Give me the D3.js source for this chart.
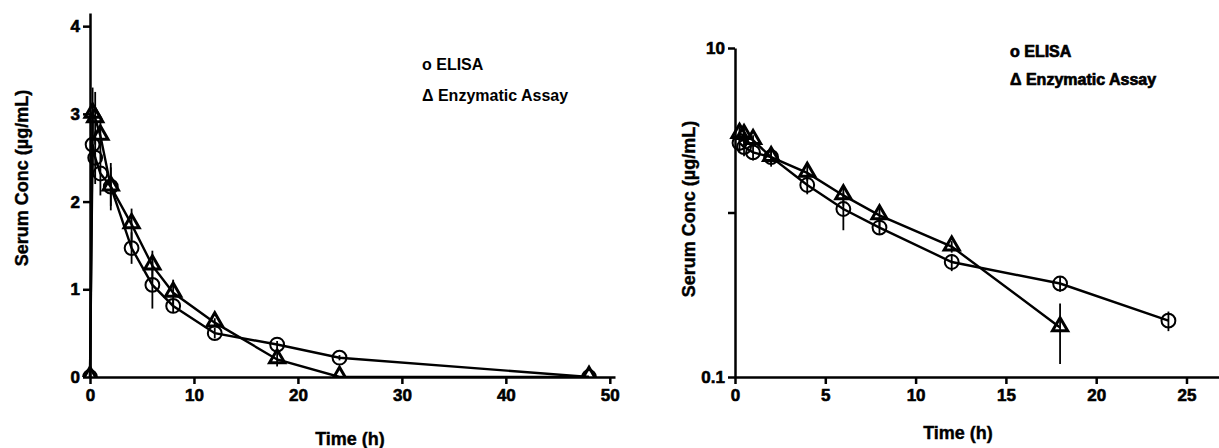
<!DOCTYPE html>
<html lang="en">
<head>
<meta charset="UTF-8">
<title>Serum concentration</title>
<script src="https://d3js.org/d3.v7.min.js"></script>
<style>
    body { margin: 0; background: #fff; }
    svg { font-family: "Liberation Sans", Arial, sans-serif; font-weight: bold; }
    .axis path, .axis line { stroke: #000; stroke-width: 2.5px; }
    .axis text { font-size: 17px; font-weight: bold; fill: #000; stroke: #000; stroke-width: 0.6px; }
    .line { fill: none; stroke: #000; stroke-width: 2.4px; }
    .err { stroke: #000; stroke-width: 1.8px; }
    .mark { fill: none; stroke: #000; stroke-width: 2px; }
    .title { font-size: 18px; font-weight: bold; stroke: #000; stroke-width: 0.4px; }
    .legend { font-size: 16px; font-weight: bold; }
</style>
</head>
<body>
<script>

    // sampling times (h)
    var times = [0, 0.25, 0.5, 1, 2, 4, 6, 8, 12, 18, 24, 48];

    // ELISA, mean and SD (ug/mL)
    var elisa   = [0, 2.65, 2.5, 2.32, 2.17, 1.47, 1.05, 0.81, 0.5, 0.37, 0.22, 0];
    var elisaSd = [0, 0.3, 0.3, 0.25, 0.27, 0.18, 0.27, 0.08, 0.06, 0.04, 0.03, 0];

    // Enzymatic assay, mean and SD (ug/mL)
    var enzyme   = [0, 3.0, 2.95, 2.75, 2.17, 1.74, 1.27, 0.96, 0.62, 0.2, 0, 0];
    var enzymeSd = [0, 0.3, 0.3, 0.2, 0.22, 0.18, 0.17, 0.15, 0.05, 0.08, 0, 0];

    var linXTicks = [0, 10, 20, 30, 40, 50];
    var linYTicks = [0, 1, 2, 3, 4];
    var logXTicks = [0, 5, 10, 15, 20, 25];
    var logYTicks = [0.1, 1, 10];
    var logYLabels = ["0.1", "", "10"];

    var legendLabels = ["o ELISA", "\u0394 Enzymatic Assay"];

    var svg = d3.select("body").append("svg")
        .attr("width", 1219)
        .attr("height", 448);

    function series(vals, sds, keepZero) {
        var out = [];
        times.forEach(function(t, i) {
            if (!keepZero && vals[i] <= 0) return;
            out.push({t: t, v: vals[i], sd: sds[i]});
        });
        return out;
    }

    function drawPanel(p) {
        var g = svg.append("g");
        var x = p.x, y = p.y;

        var clipId = "clip" + p.id;
        g.append("clipPath").attr("id", clipId)
            .append("rect")
            .attr("x", x.range()[0] - 10).attr("y", 0)
            .attr("width", x.range()[1] - x.range()[0] + 20)
            .attr("height", y.range()[0]);

        var plot = g.append("g").attr("clip-path", "url(#" + clipId + ")");

        var sets = [
            {d: series(elisa, elisaSd, p.keepZero), shape: "circle"},
            {d: series(enzyme, enzymeSd, p.keepZero), shape: "triangle"}
        ];

        var line = d3.line()
            .x(function(d) { return x(d.t); })
            .y(function(d) { return y(d.v); });

        sets.forEach(function(s) {
            plot.append("path").datum(s.d).attr("class", "line").attr("d", line);

            // error bars
            plot.selectAll(null).data(s.d.filter(function(d) { return d.sd > 0; }))
                .enter().append("line")
                .attr("class", "err")
                .attr("x1", function(d) { return x(d.t); })
                .attr("x2", function(d) { return x(d.t); })
                .attr("y1", function(d) { return y(d.v + d.sd); })
                .attr("y2", function(d) { return y(Math.max(d.v - d.sd, p.floor)); });

            var sym = d3.symbol()
                .type(s.shape === "circle" ? d3.symbolCircle : d3.symbolTriangle)
                .size(s.shape === "circle" ? 150 : 100);

            plot.selectAll(null).data(s.d)
                .enter().append("path")
                .attr("class", "mark")
                .style("stroke-width", s.shape === "circle" ? 2 : 3)
                .attr("transform", function(d) {
                    return "translate(" + x(d.t) + "," + (y(d.v) + (s.shape === "circle" ? 0 : -1)) + ")";
                })
                .attr("d", sym);
        });

        // axes
        g.append("g")
            .attr("class", "axis")
            .attr("transform", "translate(0," + y.range()[0] + ")")
            .call(d3.axisBottom(x).tickValues(p.xTicks).tickSize(7).tickSizeOuter(0).tickPadding(5));

        g.append("g")
            .attr("class", "axis")
            .attr("transform", "translate(" + x.range()[0] + ",0)")
            .call(d3.axisLeft(y).tickValues(p.yTicks).tickSize(7).tickSizeOuter(0).tickPadding(3)
                .tickFormat(function(d, i) { return p.yLabels[i]; }));

        g.append("text")
            .attr("class", "title")
            .attr("text-anchor", "middle")
            .attr("transform", "translate(" + p.yTitle[0] + "," + p.yTitle[1] + ") rotate(-90)")
            .text("Serum Conc (\u00b5g/mL)");

        g.append("text")
            .attr("class", "title")
            .attr("text-anchor", "middle")
            .attr("x", p.xTitle[0]).attr("y", p.xTitle[1])
            .text("Time (h)");

        legendLabels.forEach(function(l, i) {
            g.append("text")
                .attr("class", "legend")
                .attr("x", p.legend[0])
                .attr("y", p.legend[1] + i * p.legend[2])
                .style("stroke", "#000")
                .style("stroke-width", p.legend[3])
                .text(l);
        });
    }

    drawPanel({
        id: "a",
        x: d3.scaleLinear().domain([0, 50.5]).range([90, 615]),
        y: d3.scaleLinear().domain([0, 4.15]).range([377, 13]),
        xTicks: linXTicks,
        yTicks: linYTicks,
        yLabels: linYTicks.map(String),
        keepZero: true,
        floor: 0,
        yTitle: [28, 178],
        xTitle: [350, 445],
        legend: [422, 70, 31, 0]
    });

    drawPanel({
        id: "b",
        x: d3.scaleLinear().domain([0, 26.8]).range([735, 1219]),
        y: d3.scaleLog().domain([0.1, 10]).range([377, 48]),
        xTicks: logXTicks,
        yTicks: logYTicks,
        yLabels: logYLabels,
        keepZero: false,
        floor: 0.1,
        yTitle: [695, 209],
        xTitle: [958, 439],
        legend: [1010, 57, 28, 0.7]
    });

</script>
</body>
</html>
